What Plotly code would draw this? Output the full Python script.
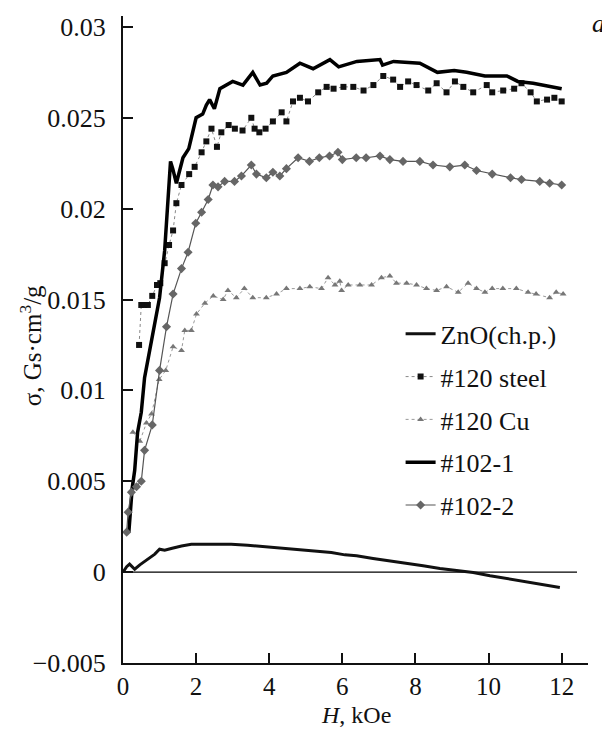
import plotly.graph_objects as go

# ---------------- data ----------------
znO_x = [0, 0.1, 0.18, 0.32, 0.46, 0.68, 0.87, 1.0, 1.14, 1.32, 1.6, 1.87, 2.14, 2.5, 2.96, 3.41,
         3.88, 4.33, 4.79, 5.25, 5.7, 6.07, 6.39, 6.84, 7.3, 7.76, 8.21, 8.67, 9.12, 9.58, 10.04,
         10.5, 10.95, 11.4, 11.95]
znO_y = [0, 0.0003, 0.00044, 0.00016, 0.0004, 0.0007, 0.00099, 0.00126, 0.0012, 0.0013, 0.00144,
         0.00153, 0.00153, 0.00157, 0.00153, 0.00148, 0.0014, 0.0013, 0.00126, 0.00117, 0.00108,
         0.00095, 0.0009, 0.00075, 0.00062, 0.0005, 0.00035, 0.0002, 0.0001, -0.00002, -0.0002,
         -0.00035, -0.00048, -0.00062, -0.00084]

steel_x = [0.44, 0.5, 0.58, 0.68, 0.8, 0.93, 1.02, 1.14, 1.26, 1.37, 1.46, 1.6, 1.81, 1.96, 2.15,
           2.28, 2.42, 2.57, 2.69, 2.89, 3.06, 3.27, 3.51, 3.6, 3.73, 3.9, 4.1, 4.34, 4.47, 4.65,
           4.84, 5.06, 5.34, 5.57, 5.76, 6.03, 6.3, 6.58, 6.85, 7.12, 7.39, 7.58, 7.8, 8.03, 8.35,
           8.58, 8.85, 9.08, 9.31, 9.58, 9.95, 10.1, 10.4, 10.7, 10.9, 11.15, 11.32, 11.6, 11.8, 12.0]
steel_y = [0.0125, 0.0147, 0.0147, 0.0147, 0.0152, 0.0158, 0.0159, 0.0170, 0.0180, 0.0188, 0.0203,
           0.0213, 0.0219, 0.0223, 0.0231, 0.0237, 0.0244, 0.0234, 0.0242, 0.0246, 0.0244, 0.0243,
           0.0250, 0.0244, 0.0242, 0.0244, 0.0248, 0.0253, 0.0248, 0.0259, 0.0261, 0.0259, 0.0264,
           0.0267, 0.0266, 0.0267, 0.0267, 0.0265, 0.0268, 0.0273, 0.0271, 0.0267, 0.0270, 0.0268,
           0.0265, 0.0269, 0.0264, 0.0270, 0.0267, 0.0264, 0.0268, 0.0264, 0.0265, 0.0266, 0.0269,
           0.0264, 0.0259, 0.0260, 0.0261, 0.0259]

cu_x = [0.27, 0.46, 0.64, 0.78, 0.99, 1.17, 1.37, 1.6, 1.69, 1.87, 2.01, 2.24, 2.47, 2.74, 2.87,
        3.1, 3.32, 3.55, 3.92, 4.2, 4.47, 4.84, 5.11, 5.43, 5.61, 5.8, 5.93, 5.98, 6.16, 6.48, 6.8,
        7.07, 7.3, 7.48, 7.76, 8.03, 8.3, 8.58, 8.85, 9.17, 9.44, 9.67, 9.9, 10.1, 10.39, 10.76,
        11.08, 11.3, 11.67, 11.85, 12.04]
cu_y = [0.0077, 0.0072, 0.0082, 0.0087, 0.0106, 0.0111, 0.0124, 0.0122, 0.0133, 0.0133, 0.0142,
        0.0148, 0.0152, 0.0150, 0.0155, 0.0151, 0.0156, 0.0151, 0.0151, 0.0153, 0.0156, 0.0156,
        0.0157, 0.0156, 0.0162, 0.0158, 0.0160, 0.0155, 0.0158, 0.0158, 0.0158, 0.0162, 0.0163,
        0.0159, 0.0159, 0.0158, 0.0156, 0.0155, 0.0157, 0.0154, 0.0159, 0.0156, 0.0154, 0.0156,
        0.0156, 0.0156, 0.0154, 0.0153, 0.0151, 0.0154, 0.0153]

s1021_x = [0.16, 0.2, 0.25, 0.32, 0.4, 0.5, 0.59, 0.73, 0.87, 1.0, 1.14, 1.23, 1.3, 1.36, 1.46,
           1.64, 1.8, 2.0, 2.18, 2.28, 2.37, 2.5, 2.65, 3.0, 3.28, 3.55, 3.75, 3.93, 4.1, 4.47,
           4.84, 5.2, 5.66, 5.9, 6.4, 7.03, 7.1, 7.4, 8.12, 8.6, 9.06, 9.4, 9.9, 10.5, 10.8, 11.22,
           12.0]
s1021_y = [0.0022, 0.0035, 0.0046, 0.0056, 0.0077, 0.0088, 0.0107, 0.0122, 0.0137, 0.0151, 0.0177,
           0.0206, 0.0226, 0.0222, 0.0214, 0.0228, 0.0233, 0.0250, 0.0252, 0.0257, 0.0260, 0.0255,
           0.0266, 0.0270, 0.0268, 0.0275, 0.0268, 0.0269, 0.0273, 0.0275, 0.0280, 0.0277, 0.0282,
           0.0278, 0.0281, 0.0282, 0.0279, 0.0281, 0.0280, 0.0275, 0.0276, 0.0275, 0.0273, 0.0273,
           0.0270, 0.0269, 0.0266]

s1022_x = [0.1, 0.14, 0.23, 0.37, 0.5, 0.59, 0.8, 1.0, 1.19, 1.37, 1.6, 1.78, 1.99, 2.15, 2.33,
           2.46, 2.6, 2.78, 3.05, 3.24, 3.51, 3.65, 3.92, 4.1, 4.29, 4.47, 4.79, 5.1, 5.37, 5.65,
           5.88, 6.0, 6.38, 6.65, 7.03, 7.3, 7.66, 8.12, 8.48, 8.94, 9.35, 9.67, 10.1, 10.6, 10.9,
           11.4, 11.67, 12.0]
s1022_y = [0.0022, 0.0033, 0.0044, 0.0047, 0.0050, 0.0067, 0.0081, 0.0111, 0.0135, 0.0153, 0.0167,
           0.0176, 0.0192, 0.0198, 0.0205, 0.0213, 0.0212, 0.0215, 0.0215, 0.0218, 0.0224, 0.0219,
           0.0217, 0.0220, 0.0218, 0.0222, 0.0228, 0.0226, 0.0228, 0.0229, 0.0231, 0.0227, 0.0228,
           0.0228, 0.0229, 0.0227, 0.0226, 0.0226, 0.0224, 0.0223, 0.0224, 0.0221, 0.0219, 0.0217,
           0.0216, 0.0215, 0.0214, 0.0213]

y_ticks = [-0.005, 0, 0.005, 0.01, 0.015, 0.02, 0.025, 0.03]
y_ticktext = ["\u22120.005", "0", "0.005", "0.01", "0.015", "0.02", "0.025", "0.03"]
x_ticks = [0, 2, 4, 6, 8, 10, 12]

# ---------------- figure ----------------
FONT = "Liberation Serif"
fig = go.Figure()

fig.add_trace(go.Scatter(x=znO_x, y=znO_y, name="ZnO(ch.p.)", legendgroup="g1", mode="lines",
                         line=dict(color="#111111", width=3)))
fig.add_trace(go.Scatter(x=steel_x, y=steel_y, name="#120 steel", legendgroup="g2",
                         mode="lines+markers",
                         line=dict(color="#888888", width=1, dash="dot"),
                         marker=dict(symbol="square", size=6, color="#111111")))
fig.add_trace(go.Scatter(x=cu_x, y=cu_y, name="#120 Cu", legendgroup="g3",
                         mode="lines+markers",
                         line=dict(color="#999999", width=1, dash="dot"),
                         marker=dict(symbol="triangle-up", size=6, color="#777777")))
fig.add_trace(go.Scatter(x=s1021_x, y=s1021_y, name="#102-1", legendgroup="g4", mode="lines",
                         line=dict(color="#000000", width=3.5)))
fig.add_trace(go.Scatter(x=s1022_x, y=s1022_y, name="#102-2", legendgroup="g5",
                         mode="lines+markers",
                         line=dict(color="#555555", width=1.2),
                         marker=dict(symbol="diamond", size=7, color="#666666")))

fig.add_shape(type="line", xref="x", yref="y", x0=0, x1=12.42, y0=0, y1=0,
              line=dict(color="black", width=1.2), layer="below")

fig.update_layout(
    width=602, height=721,
    margin=dict(l=115, r=22, t=5, b=66),
    paper_bgcolor="white", plot_bgcolor="white",
    font=dict(family=FONT, size=26, color="#111111"),
    showlegend=True,
    legend=dict(x=0.597, y=0.545, xanchor="left", yanchor="top",
                font=dict(family=FONT, size=26, color="#111111"),
                bgcolor="rgba(0,0,0,0)", traceorder="grouped", tracegroupgap=6),
    xaxis=dict(range=[0, 12.72], tickvals=x_ticks, ticks="inside", ticklen=10, tickwidth=1.5,
               tickcolor="#111111", showline=True, linecolor="#111111", linewidth=2,
               showgrid=False, zeroline=False, tickfont=dict(family=FONT, size=25),
               ticklabelstandoff=0),
    yaxis=dict(range=[-0.005, 0.0306], tickvals=y_ticks, ticktext=y_ticktext, ticks="inside",
               ticklen=10, tickwidth=1.5, tickcolor="#111111", showline=True,
               linecolor="#111111", linewidth=2, showgrid=False, zeroline=False,
               tickfont=dict(family=FONT, size=26), ticklabelstandoff=10),
    annotations=[
        dict(text="\u03c3, Gs\u00b7cm<sup>3</sup>/g", xref="paper", yref="paper", x=-0.198,
             y=0.491, xanchor="center", yanchor="middle", textangle=-90, showarrow=False,
             font=dict(family=FONT, size=25)),
        dict(text="<i>H</i>, kOe", xref="paper", yref="paper", x=0.5, y=-0.081,
             xanchor="center", yanchor="middle", showarrow=False, font=dict(family=FONT, size=24)),
        dict(text="<i>a</i>", xref="paper", yref="paper", x=1.022, y=0.989, xanchor="center",
             yanchor="middle", showarrow=False, font=dict(family=FONT, size=26)),
    ],
)

fig.write_html("out.html")
